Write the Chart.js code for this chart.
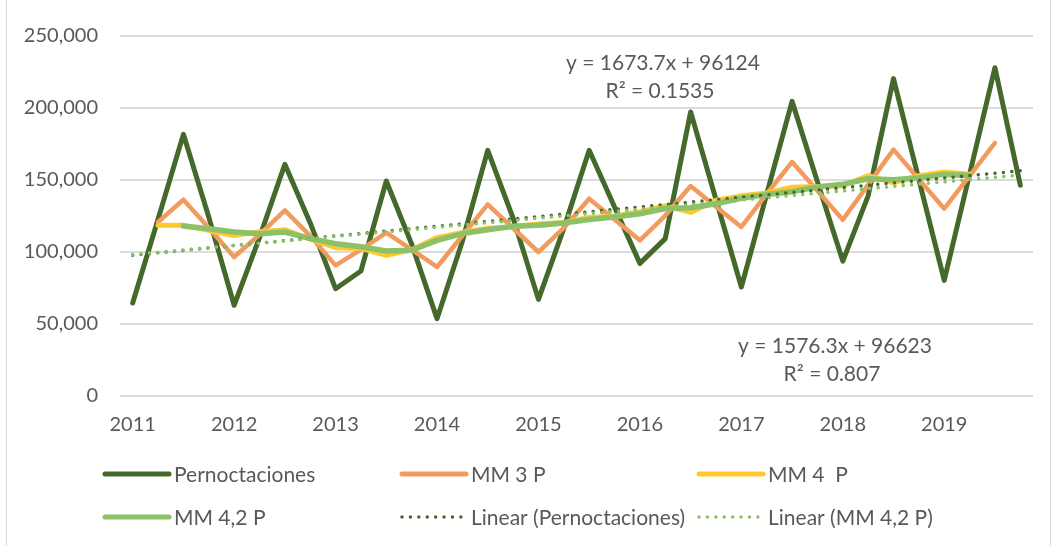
<!DOCTYPE html>
<html>
    <head>
        <meta charset="UTF-8"/>
        <title>Pernoctaciones</title>
        <script src="https://cdn.jsdelivr.net/npm/chart.js@4.4.1/dist/chart.umd.min.js"></script>
        <style>
            body{margin:0;background:#fff;}
            #wrap{position:relative;width:1055px;height:546px;}
            .edge{position:absolute;top:0;width:1px;height:546px;background:#d9d9d9;}
        </style>
    </head>
    <body>
        <div id="wrap">
            <canvas id="chart" width="1055" height="546"></canvas>
            <div class="edge" style="left:6px"></div>
            <div class="edge" style="left:1050px"></div>
        </div>
        <script>
            // quarterly categories, only Q1 shows the year
            const tickLabels=['2011','','','','2012','','','','2013','','','','2014','','','','2015','','','',
                              '2016','','','','2017','','','','2018','','','','2019','','',''];
            const pernoctaciones=[64600,122700,181700,124300,63000,110000,160900,120200,74500,86800,149300,105500,
                                  53700,107500,170600,123600,67100,116400,170600,131200,92100,109300,197200,136500,
                                  75700,140200,204600,148800,93700,139000,220400,150300,80300,154000,228000,146300];
            const mm3=[null,120800,136300,116900,96500,112100,128900,111200,90700,101600,113400,101600,
                       89600,111300,133100,116500,100000,116700,137000,122600,108100,125300,145800,131500,
                       117400,140300,162500,142500,122400,146800,171100,150500,130100,152900,175700,null];
            const mm4=[null,118500,118500,115000,111500,114000,115500,109000,103000,102500,97700,101500,
                       110000,113500,116500,117500,119500,120500,124000,125000,128000,132000,127500,136000,
                       139000,141000,145000,145500,146000,153000,148000,153000,155500,154000,null,null];
            const mm42=[null,null,118000,116200,113900,112700,113900,109300,105800,103600,100700,101200,
                        108100,112800,115500,117800,118500,120100,122600,124300,126600,130200,130700,133500,
                        137300,140000,141900,145100,147000,150900,150200,151600,153900,153200,null,null];
            // trend lines: first and last point
            const trendPernoctaciones=[97800,156400];
            const trendMm42=[98200,153400];
            const trendLabels=[['y = 1673.7x + 96124','R² = 0.1535'],['y = 1576.3x + 96623','R² = 0.807']];

            function ends(pair){
                const arr=new Array(tickLabels.length).fill(null);
                arr[0]=pair[0];
                arr[arr.length-1]=pair[1];
                return arr;
            }

            const FONT='Lato';
            const GREY='#595959';
            const DOTS=[0.01,8.4];

            const equations={
                id:'equations',
                afterDatasetsDraw(chart){
                    const ctx=chart.ctx;
                    ctx.save();
                    ctx.font='21px '+FONT;
                    ctx.fillStyle=GREY;
                    ctx.textAlign='center';
                    ctx.textBaseline='middle';
                    ctx.fillText(trendLabels[0][0],663,63);
                    ctx.fillText(trendLabels[0][1],660,91);
                    ctx.fillText(trendLabels[1][0],835,346);
                    ctx.fillText(trendLabels[1][1],832,374);
                    ctx.restore();
                }
            };

            // legend laid out in a 3 column grid like the original
            const gridLegend={
                id:'gridLegend',
                afterDraw(chart){
                    const ctx=chart.ctx;
                    const cols=[103,400,697];
                    const rows=[474,517];
                    ctx.save();
                    chart.data.datasets.forEach((ds,i)=>{
                        const x=cols[i%3];
                        const y=rows[Math.floor(i/3)];
                        ctx.beginPath();
                        ctx.strokeStyle=ds.borderColor;
                        ctx.lineWidth=ds.borderDash?3.5:5;
                        ctx.lineCap='round';
                        ctx.setLineDash(ds.borderDash||[]);
                        ctx.moveTo(x+2,y);
                        ctx.lineTo(x+66,y);
                        ctx.stroke();
                        ctx.setLineDash([]);
                        ctx.font='21px '+FONT;
                        ctx.fillStyle=GREY;
                        ctx.textAlign='left';
                        ctx.textBaseline='middle';
                        ctx.fillText(ds.label,x+71,y+1);
                    });
                    ctx.restore();
                }
            };

            const ctx=document.getElementById('chart').getContext('2d');
            const myChart=new Chart(ctx,{
                type:'line',
                data:{
                    labels:tickLabels,
                    datasets:[
                        {label:'Pernoctaciones',data:pernoctaciones,borderColor:'#44692b',borderWidth:5,order:6},
                        {label:'MM 3 P',data:mm3,borderColor:'#f29b5e',borderWidth:4.5,order:5},
                        {label:'MM 4  P',data:mm4,borderColor:'#ffc92e',borderWidth:5,order:4},
                        {label:'MM 4,2 P',data:mm42,borderColor:'#8cc168',borderWidth:5.5,order:3},
                        {label:'Linear (Pernoctaciones)',data:ends(trendPernoctaciones),borderColor:'#44692b',
                         borderWidth:3.5,borderDash:DOTS,spanGaps:true,order:2},
                        {label:'Linear (MM 4,2 P)',data:ends(trendMm42),borderColor:'#8cc168',
                         borderWidth:3.5,borderDash:DOTS,spanGaps:true,order:1}
                    ]
                },
                options:{
                    responsive:false,
                    animation:false,
                    layout:{padding:{top:36,right:22,left:0,bottom:96}},
                    elements:{
                        point:{radius:0,hoverRadius:0},
                        line:{tension:0,borderCapStyle:'round',borderJoinStyle:'round',fill:false}
                    },
                    plugins:{legend:{display:false},tooltip:{enabled:false}},
                    scales:{
                        x:{
                            offset:true,
                            grid:{display:false,drawTicks:false},
                            border:{display:false},
                            ticks:{autoSkip:false,maxRotation:0,color:GREY,font:{family:FONT,size:20},padding:17},
                            afterFit:function(scale){scale.height=54;}
                        },
                        y:{
                            min:0,
                            max:250000,
                            grid:{color:'#dcdcdc',lineWidth:2,drawTicks:false},
                            border:{display:false},
                            ticks:{
                                stepSize:50000,
                                color:GREY,
                                font:{family:FONT,size:20},
                                padding:22,
                                callback:function(value){return value.toLocaleString('en-US');}
                            },
                            afterFit:function(scale){scale.width=120;}
                        }
                    }
                },
                plugins:[equations,gridLegend]
            });
        </script>
    </body>
</html>
